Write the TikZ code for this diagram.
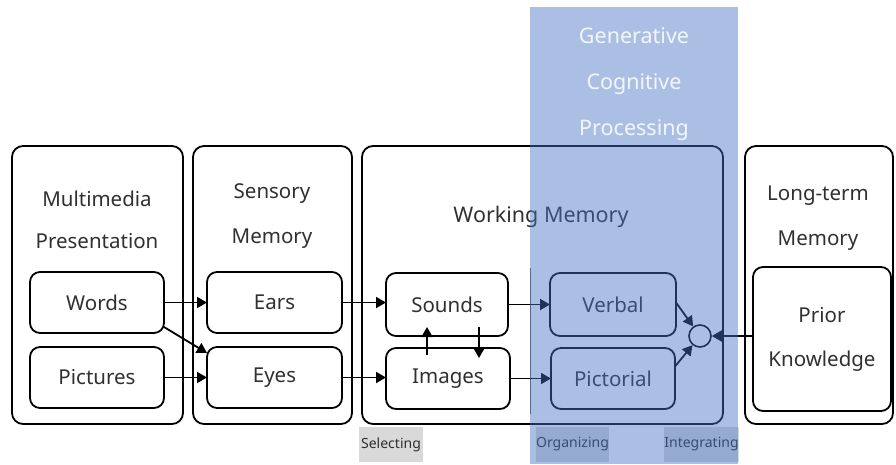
\documentclass[tikz,border=0pt]{standalone}
\usepackage{fontspec}
\setmainfont{Noto Sans}
\usetikzlibrary{arrows.meta,calc}
\definecolor{txt}{HTML}{303030}
\definecolor{gcp}{HTML}{4472C4}
\definecolor{tag}{HTML}{D9D9D9}
\tikzset{
  stage/.style={draw, line width=1.8pt, rounded corners=11pt, inner sep=0pt, outer sep=0pt},
  inbox/.style={draw, line width=1.8pt, rounded corners=10pt, inner sep=0pt, outer sep=0pt,
    text=txt, font=\fontsize{20.5}{24}\selectfont},
  title/.style={text=txt, align=center, inner sep=0pt},
  flow/.style={line width=1.8pt, -{Triangle[length=10pt,width=11pt]}},
  tagbox/.style={fill=tag, inner sep=0pt, outer sep=0pt, text=txt, font=\fontsize{14}{16}\selectfont},
}
\begin{document}
\begin{tikzpicture}[x=1pt, y=-1pt]
\useasboundingbox (0,0) rectangle (896,464);

% the four memory stages
\node[stage, minimum width=171pt, minimum height=278pt] (mm)  at (97.5,285) {};
\node[stage, minimum width=159pt, minimum height=278pt] (sm)  at (272.5,285) {};
\node[stage, minimum width=361pt, minimum height=278pt] (wm)  at (542.5,285) {};
\node[stage, minimum width=148pt, minimum height=278pt] (ltm) at (819,285) {};

% stage titles
\node[title, font=\fontsize{20.5}{42}\selectfont] (mmt) at (97,220) {Multimedia\\Presentation};
\node[title, font=\fontsize{20.5}{45}\selectfont] (smt) at (272,216.5) {Sensory\\Memory};
\node[title, font=\fontsize{21.5}{24}\selectfont] (wmt) at (541,217) {Working Memory};
\node[title, font=\fontsize{20.5}{45}\selectfont] (ltmt) at (818,218.5) {Long-term\\Memory};

% inner boxes
\node[inbox, minimum width=134pt, minimum height=61pt] (words)     at (97,302.5)  {Words};
\node[inbox, minimum width=134pt, minimum height=61pt] (pictures)  at (97,377.5)  {Pictures};
\node[inbox, minimum width=135pt, minimum height=61pt] (ears)      at (274.5,302.5) {Ears};
\node[inbox, minimum width=135pt, minimum height=61pt] (eyes)      at (274.5,377.5) {Eyes};
\node[inbox, minimum width=122pt, minimum height=63pt] (sounds)    at (447,304.5) {Sounds};
\node[inbox, minimum width=124pt, minimum height=61pt] (images)    at (448,378.5) {Images};
\node[inbox, minimum width=126pt, minimum height=63pt] (verbal)    at (613,304.5) {Verbal};
\node[inbox, minimum width=124pt, minimum height=61pt] (pictorial) at (613,378.5) {Pictorial};
\node[draw, circle, line width=1.6pt, minimum size=22pt, inner sep=0pt] (circ) at (700,336) {};
\node[inbox, minimum width=138pt, minimum height=144pt, align=center,
      font=\fontsize{20.5}{44}\selectfont] (prior) at (822,339) {Prior\\Knowledge};

% divider inside working memory
\coordinate (div0) at (530,268);
\coordinate (div1) at (530,414);
\draw[line width=1pt, black!60] (div0) -- (div1);

% flows
\coordinate (we0) at ($(words.south east)+(0,-6)$);
\coordinate (we1) at ($(eyes.west)+(0,-24.5)$);
\draw[flow] (words.east) -- (ears.west);
\draw[flow] (we0) -- (we1);
\draw[flow] (pictures.east) -- (eyes.west);
\draw[flow] (ears.east) -- (sounds.west |- ears.east);
\draw[flow] (eyes.east) -- (images.west |- eyes.east);
\coordinate (up0) at ($(images.north west)+(41,7)$);
\coordinate (up1) at ($(sounds.south west)+(41,-9)$);
\coordinate (dn0) at ($(sounds.south west)+(93,-9)$);
\coordinate (dn1) at ($(images.north west)+(93,10)$);
\draw[flow] (up0) -- (up1);
\draw[flow] (dn0) -- (dn1);
\draw[flow] (sounds.east) -- (verbal.west);
\draw[flow] (images.east) -- (pictorial.west |- images.east);
\coordinate (ve0) at ($(verbal.east)+(0,-2)$);
\coordinate (pe0) at ($(pictorial.east)+(0,-12)$);
\draw[flow] (ve0) -- (circ);
\draw[flow] (pe0) -- (circ);
\draw[flow] (prior.west |- circ) -- (circ);

% process tags
\node[tagbox, minimum width=64pt, minimum height=35pt] (sel) at (391,444.5) {Selecting};
\node[tagbox, minimum width=71pt, minimum height=35pt] (org) at (572.5,444.5) {Organizing};
\node[tagbox, minimum width=73pt, minimum height=35pt] (int) at (701.5,444.5) {Integrating};

% generative processing band
\fill[gcp, opacity=0.45] (530,7) rectangle (738,464);
\node[title, text=white, text opacity=0.85, font=\fontsize{21.5}{46}\selectfont] (gen) at (634,84)
  {Generative\\Cognitive\\Processing};
\end{tikzpicture}
\end{document}
